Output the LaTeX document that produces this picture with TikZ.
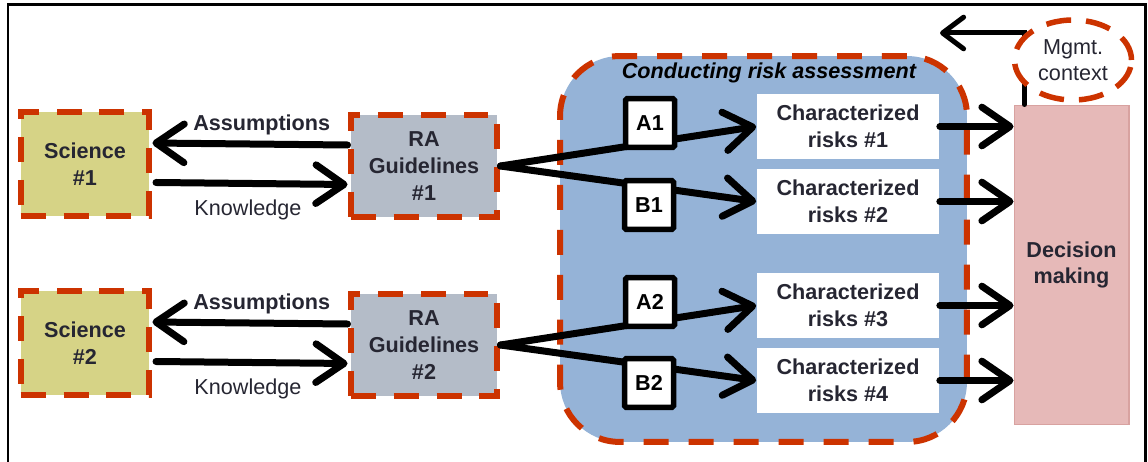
\documentclass[tikz,border=0pt]{standalone}
\usepackage{fontspec}
\setmainfont{Liberation Sans}
\usetikzlibrary{arrows.meta,shapes.geometric}

\definecolor{dashred}{RGB}{204,51,0}
\definecolor{scifill}{RGB}{214,211,134}
\definecolor{rafill}{RGB}{180,188,200}
\definecolor{rabg}{RGB}{149,179,215}
\definecolor{dmfill}{RGB}{230,185,184}
\definecolor{dmline}{RGB}{216,162,160}
\definecolor{txt}{RGB}{38,38,50}

\begin{document}
\begin{tikzpicture}[x=0.02cm, y=-0.02cm,
    every node/.style={font=\fontsize{12.3}{15}\selectfont, text=txt, align=center},
    redbox/.style={draw=dashred, line width=0.12cm, dash pattern=on 0.5cm off 0.36cm, inner sep=0pt},
    scibox/.style={redbox, fill=scifill, minimum width=2.58cm, minimum height=2.08cm,
        font=\fontsize{12.3}{15}\selectfont\bfseries},
    guidebox/.style={redbox, fill=rafill, minimum width=2.94cm, minimum height=2.04cm,
        font=\fontsize{12.3}{15.5}\selectfont\bfseries},
    crbox/.style={fill=white, minimum width=3.66cm, minimum height=1.3cm, inner sep=0pt,
        font=\fontsize{12.3}{15.3}\selectfont\bfseries},
    abbox/.style={draw=black, fill=white, line width=0.11cm, rounded corners=1pt,
        minimum size=0.98cm, inner sep=0pt, text=black, font=\fontsize{12.3}{15}\selectfont\bfseries},
    flow/.style={line width=0.14cm, line cap=round,
        -{Straight Barb[length=16pt, width=22pt, round]}},
  ]
    \useasboundingbox (0,0) rectangle (1148,462);
    \draw[line width=0.06cm] (8,470) -- (8,5) -- (1145,5) -- (1145,470);

    \node[draw=dashred, fill=rabg, line width=0.12cm, dash pattern=on 0.5cm off 0.4cm,
        rounded corners=1.2cm, minimum width=8.14cm, minimum height=7.72cm] (cra) at (763.5,249) {};
    \node[text=black, font=\fontsize{12.3}{15}\selectfont\bfseries\itshape] (crat) at (769,73) {Conducting risk assessment};

    \node[scibox] (sci1) at (85,164) {Science\\\#1};
    \node[scibox] (sci2) at (85,343) {Science\\\#2};
    \node[guidebox] (rag1) at (424,166) {RA\\Guidelines\\\#1};
    \node[guidebox] (rag2) at (424,345) {RA\\Guidelines\\\#2};

    \foreach \i/\y in {1/126.5,2/201.5,3/305.5,4/380.5}
        \node[crbox] (cr\i) at (848,\y) {Characterized\\risks \#\i};

    \node[fill=dmfill, draw=dmline, line width=0.6pt, minimum width=2.3cm, minimum height=6.4cm,
        font=\fontsize{12.3}{15}\selectfont\bfseries] (dm) at (1071.5,265) {Decision\\making};

    \foreach \n in {1,2} {
        \draw[flow] ([yshift=0.42cm]rag\n.west) -- ([yshift=0.42cm]sci\n.east)
            node[pos=0.44, above=0pt, font=\fontsize{12.3}{15}\selectfont\bfseries] {Assumptions};
        \draw[flow] ([yshift=-0.37cm,xshift=2pt]sci\n.east) -- ([yshift=-0.37cm]rag\n.west)
            node[pos=0.48, below=4pt] {Knowledge};
    }

    \draw[flow] (rag1.east) -- (cr1.west);
    \draw[flow] (rag1.east) -- (cr2.west);
    \draw[flow] (rag2.east) -- (cr3.west);
    \draw[flow] (rag2.east) -- (cr4.west);

    \node[abbox] (a1) at (650,123) {A1};
    \node[abbox] (b1) at (649,205) {B1};
    \node[abbox] (a2) at (650,302) {A2};
    \node[abbox] (b2) at (649,383) {B2};

    \foreach \i in {1,...,4}
        \draw[flow] (cr\i.east) -- (cr\i.east -| dm.west);

    \coordinate (mgtip) at (940,33);
    \draw[line width=0.1cm, line cap=round, -{Straight Barb[length=12pt, width=18pt, round]}]
        ([xshift=0.22cm]dm.north west) |- (mgtip);
    \node[ellipse, draw=dashred, fill=white, line width=0.11cm, dash pattern=on 0.5cm off 0.3cm,
        minimum width=2.34cm, minimum height=1.6cm, inner sep=0pt] (mgmt) at (1073,60) {Mgmt.\\context};
\end{tikzpicture}
\end{document}
